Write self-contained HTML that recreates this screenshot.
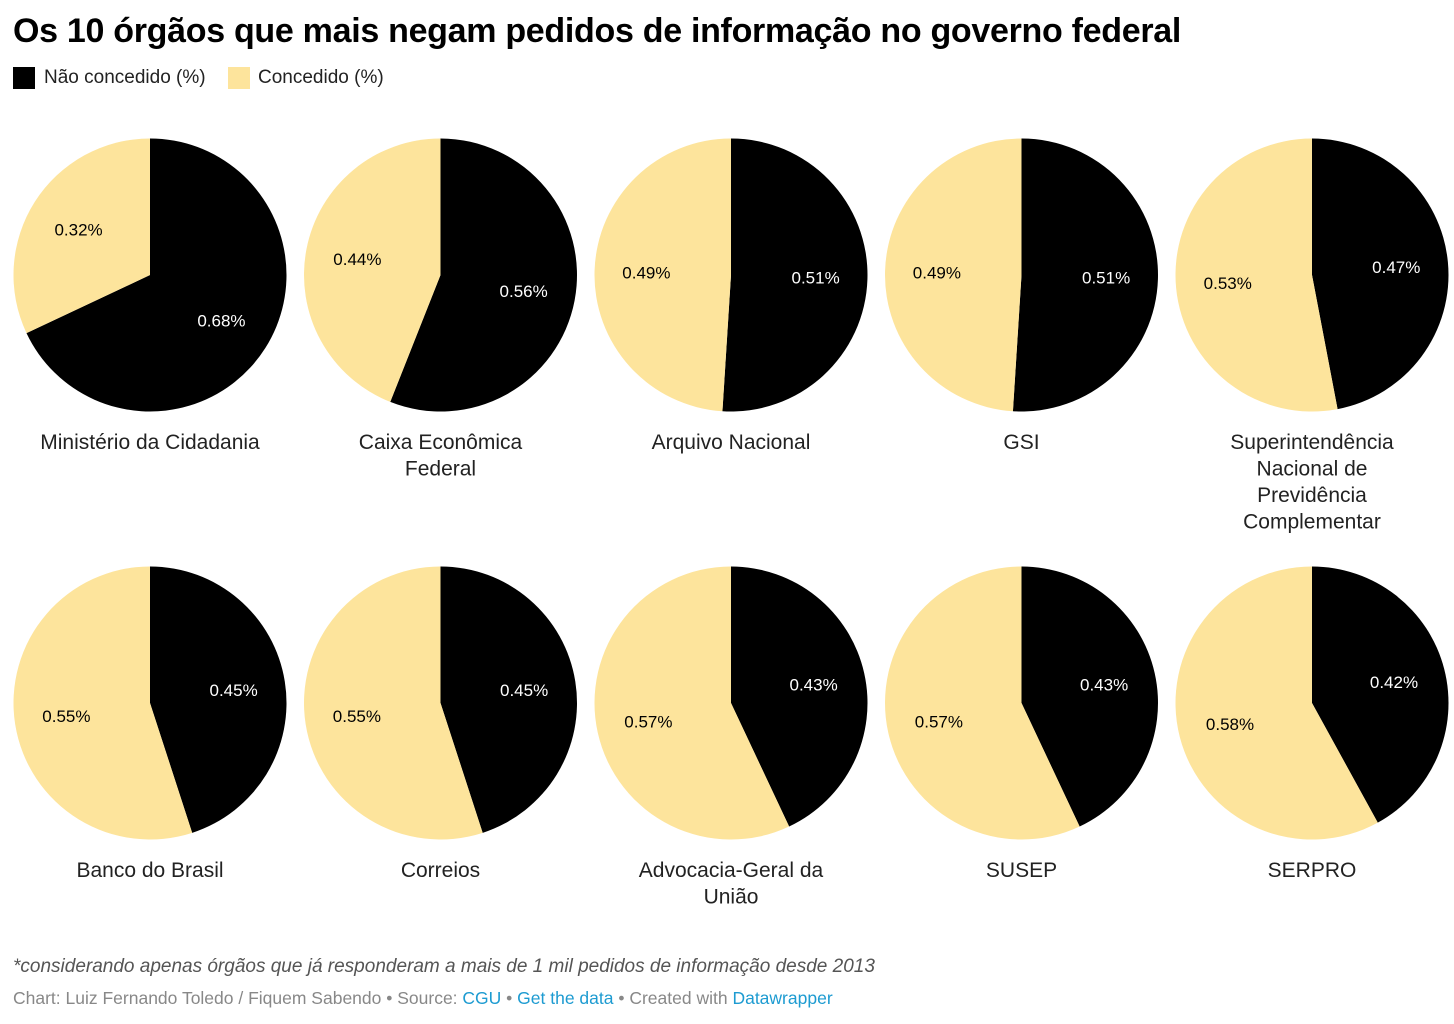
<!DOCTYPE html>
<html><head><meta charset="utf-8"><style>
body{margin:0;width:1454px;height:1024px;background:#fff;font-family:"Liberation Sans",sans-serif;position:relative;overflow:hidden}
.t{position:absolute;white-space:nowrap}
#title{left:13px;top:12px;font-size:34px;font-weight:bold;color:#000;letter-spacing:-0.3px}
.sw{position:absolute;top:67px;width:22px;height:22px}
.lg{top:67px;font-size:19px;color:#222}
#note{left:13px;top:956px;font-size:19px;font-style:italic;color:#555}
#credit{left:13px;top:988px;font-size:17.5px;color:#888}
#credit span{color:#1d9bd1}
</style></head><body>
<div class="t" id="title">Os 10 órgãos que mais negam pedidos de informação no governo federal</div>
<div class="sw" style="left:13px;background:#000"></div>
<div class="t lg" style="left:44px">Não concedido (%)</div>
<div class="sw" style="left:228px;background:#fde49c"></div>
<div class="t lg" style="left:258px">Concedido (%)</div>
<svg id="chart" width="1454" height="940" style="position:absolute;left:0;top:0"></svg>
<div class="t" id="note">*considerando apenas órgãos que já responderam a mais de 1 mil pedidos de informação desde 2013</div>
<div class="t" id="credit">Chart: Luiz Fernando Toledo / Fiquem Sabendo • Source: <span>CGU</span> • <span>Get the data</span> • Created with <span>Datawrapper</span></div>
<script>
const categories=[["Ministério da Cidadania"],["Caixa Econômica","Federal"],["Arquivo Nacional"],["GSI"],["Superintendência","Nacional de","Previdência","Complementar"],["Banco do Brasil"],["Correios"],["Advocacia-Geral da","União"],["SUSEP"],["SERPRO"]];
const naoConcedido=[0.68,0.56,0.51,0.51,0.47,0.45,0.45,0.43,0.43,0.42];
const concedido=[0.32,0.44,0.49,0.49,0.53,0.55,0.55,0.57,0.57,0.58];
const svg=document.getElementById('chart');
const NS='http://www.w3.org/2000/svg';
const R=136.5;
function pt(cx,cy,r,f){const a=f*2*Math.PI;return [cx+r*Math.sin(a),cy-r*Math.cos(a)];}
function mk(tag,attrs){const e=document.createElementNS(NS,tag);for(const k in attrs)e.setAttribute(k,attrs[k]);svg.appendChild(e);return e;}
categories.forEach((name,i)=>{
  const cx=150+(i%5)*290.5, cy=i<5?275:703;
  const tot=naoConcedido[i]+concedido[i];
  const f1=naoConcedido[i]/tot;
  const slices=[[0,f1,'#000','#fff',naoConcedido[i],'nao-concedido'],[f1,1,'#fde49c','#000',concedido[i],'concedido']];
  slices.forEach(s=>{
    const [a,b]=[s[0],s[1]];
    const p0=pt(cx,cy,R,a),p1=pt(cx,cy,R,b);
    const large=(b-a)>0.5?1:0;
    const p=mk('path',{d:`M${cx},${cy}L${p0[0]},${p0[1]}A${R},${R} 0 ${large} 1 ${p1[0]},${p1[1]}Z`,fill:s[2]});
    
    
    const lp=pt(cx,cy,R*0.62,(a+b)/2);
    const t=mk('text',{x:lp[0],y:lp[1]+6,'text-anchor':'middle','font-size':'17','fill':s[3],'font-family':'Liberation Sans, sans-serif'});
    t.textContent=s[4].toFixed(2)+'%';
    
    
  });
  name.forEach((ln,j)=>{
    const t=mk('text',{x:cx,y:cy+174+j*26.5,'text-anchor':'middle','font-size':'21','fill':'#222','font-family':'Liberation Sans, sans-serif'});
    t.textContent=ln;
    
    
  });
});
</script>
</body></html>
